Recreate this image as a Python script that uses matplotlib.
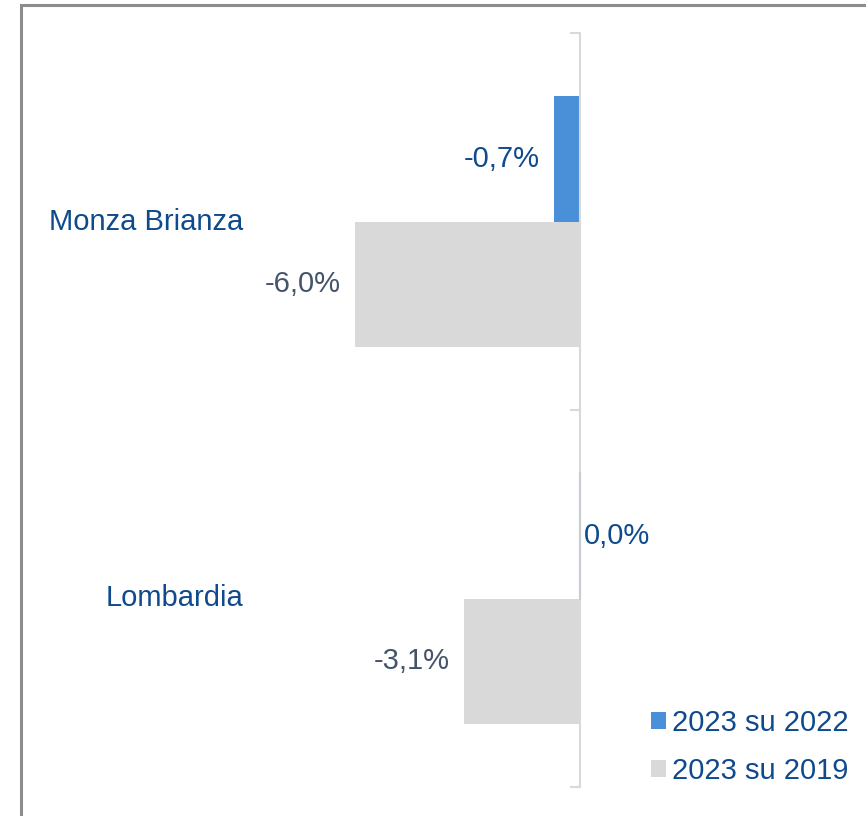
import matplotlib.pyplot as plt
from matplotlib.patches import Rectangle
from matplotlib.transforms import blended_transform_factory

plt.rcParams['font.family'] = ['Liberation Sans', 'DejaVu Sans']

# data
categories = ['Monza Brianza', 'Lombardia']
series_names = ['2023 su 2022', '2023 su 2019']
vals_2022 = [-0.7, 0.0]
vals_2019 = [-6.0, -3.1]

BLUE = '#4a90d9'
GREY = '#d9d9d9'
DARK_BLUE = '#0f4a8c'
SLATE = '#44546a'
FS = 21

W, H = 866, 816
fig = plt.figure(figsize=(W / 100, H / 100), dpi=100)

# outer frame (partly cut off on right/bottom)
fig.patches.append(Rectangle((21 / W, -0.1), 1.2, (H - 5) / H + 0.1,
                             transform=fig.transFigure, fill=False,
                             edgecolor='#8c8c8c', linewidth=2.2))

# axes placed in pixels: x from 250 to 850, y from 33 to 787
ax = fig.add_axes([250 / W, (H - 787) / H, 600 / W, (787 - 33) / H])
px_per_unit = 37.5
ax.set_xlim(-(580 - 250) / px_per_unit, (850 - 580) / px_per_unit)
ax.set_ylim(2, 0)

bh = 1 / 3
ypos = [i + 0.5 for i in range(len(categories))]
ax.barh([y - bh / 2 for y in ypos], vals_2022, height=bh, color=BLUE,
        label=series_names[0], zorder=2)
ax.barh([y + bh / 2 for y in ypos], vals_2019, height=bh, color=GREY,
        label=series_names[1], zorder=2)

# zero line for the 0,0% bar
ax.plot([0, 0], [ypos[1] - bh, ypos[1]], color='#c8ccd4', lw=1.5, zorder=3)

for spine in ['top', 'right', 'bottom']:
    ax.spines[spine].set_visible(False)
ax.spines['left'].set_position(('data', 0))
ax.spines['left'].set_color(GREY)
ax.spines['left'].set_linewidth(1.5)
ax.set_xticks([])
ax.set_yticks([0, 1, 2])
ax.set_yticklabels([])
ax.tick_params(axis='y', direction='out', length=7, width=1.5, color=GREY)

# category labels
tr = blended_transform_factory(fig.transFigure, ax.transData)
for y, cat in zip(ypos, categories):
    ax.text(243 / W, y, cat, transform=tr, ha='right', va='center',
            fontsize=FS, color=DARK_BLUE)

# value labels
def fmt(v):
    return f'{v:.1f}%'.replace('.', ',')

off = 14 / px_per_unit
for y, v in zip(ypos, vals_2022):
    if v < 0:
        ax.text(v - off, y - bh / 2, fmt(v), ha='right', va='center',
                fontsize=FS, color=DARK_BLUE)
    else:
        ax.text(v + 4 / px_per_unit, y - bh / 2, fmt(v), ha='left', va='center',
                fontsize=FS, color=DARK_BLUE)
for y, v in zip(ypos, vals_2019):
    ax.text(v - off, y + bh / 2, fmt(v), ha='right', va='center',
            fontsize=FS, color=SLATE)

leg = fig.legend(loc='lower left', bbox_to_anchor=(651 / W, (H - 785) / H),
                 frameon=False, fontsize=FS, borderpad=0, borderaxespad=0,
                 handlelength=0.52, handleheight=0.52,
                 handletextpad=0.2, labelspacing=0.7)
for t in leg.get_texts():
    t.set_color(DARK_BLUE)

fig.savefig('out.png', dpi=100)
